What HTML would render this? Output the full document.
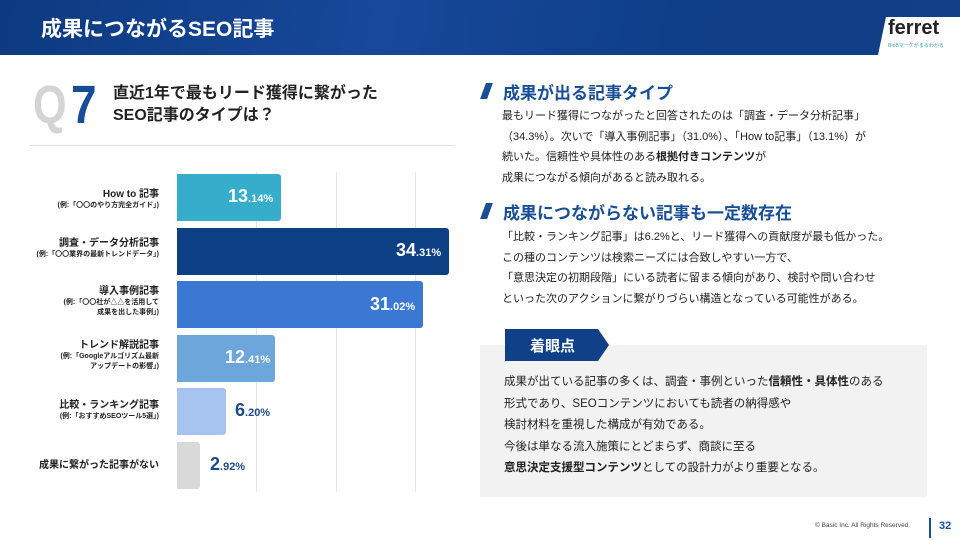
<!DOCTYPE html>
<html><head><meta charset="utf-8"><style>
*{margin:0;padding:0;box-sizing:border-box}
body{width:960px;height:540px;position:relative;background:#fff;font-family:"Liberation Sans","Noto Sans CJK JP",sans-serif;color:#222;overflow:hidden}
.a{position:absolute;white-space:nowrap}
.hdr{left:0;top:0;width:960px;height:55px;background:linear-gradient(100deg,#0d3a80 0%,#17489a 40%,#0f3f88 70%,#123f86 100%)}
.bar{position:absolute;left:177px;height:47px;border-radius:0 3px 3px 0}
.lbl{position:absolute;right:801px;text-align:right;font-weight:bold;font-size:10px;line-height:13px;white-space:nowrap}
.lbl small{font-size:7px;line-height:10px;display:block}
.val{position:absolute;font-weight:bold;font-size:18px}
.val span{font-size:11px}
.grid{position:absolute;top:172px;width:1px;height:320px;background:#e4e4e4}
.h2{font-size:17px;font-weight:bold;color:#1a4f96}
.p{font-size:11px;line-height:20.5px;color:#222}
.slash{position:absolute;width:7px;height:16px;background:#1a4f96;transform:skewX(-20deg)}
</style></head><body>
<div class="a hdr"></div>
<div class="a" style="left:41px;top:13px;font-size:21px;font-weight:bold;color:#fff">成果につながるSEO記事</div>
<div class="a" style="left:878px;top:17px;width:82px;height:38px;background:#fff;clip-path:polygon(8px 0,100% 0,100% 100%,0 100%)"></div>
<div class="a" style="left:888px;top:17px;font-size:20px;font-weight:bold;color:#222">ferret</div>
<div class="a" style="left:888px;top:42px;font-size:5px;color:#3aa8b8">BtoBマーケがまるわかる</div>

<div class="a" style="left:33px;top:76px;font-size:54px;font-weight:bold;color:#d4d4d4;line-height:58px;transform:scaleX(0.8);transform-origin:left">Q</div>
<div class="a" style="left:71px;top:76px;font-size:54px;font-weight:bold;color:#174d96;line-height:58px;transform:scaleX(0.85);transform-origin:left">7</div>
<div class="a" style="left:113px;top:83px;font-size:16px;font-weight:bold;line-height:22px">直近1年で最もリード獲得に繋がった<br>SEO記事のタイプは？</div>
<div class="a" style="left:30px;top:145px;width:425px;height:1px;background:#e2e2e2"></div>

<div class="grid" style="left:256px"></div><div class="grid" style="left:336px"></div><div class="grid" style="left:415px"></div>
<div class="bar" style="top:174px;width:104px;background:#36aecb"></div>
<div class="bar" style="top:228px;width:272px;background:#0c3f83"></div>
<div class="bar" style="top:281px;width:246px;background:#3b78d3"></div>
<div class="bar" style="top:335px;width:98px;background:#6da6db"></div>
<div class="bar" style="top:388px;width:49px;background:#a7c4f1"></div>
<div class="bar" style="top:442px;width:23px;background:#d9d9d9"></div>
<div class="val" style="left:228px;top:186px;color:#fff">13<span>.14%</span></div>
<div class="val" style="left:396px;top:240px;color:#fff">34<span>.31%</span></div>
<div class="val" style="left:370px;top:294px;color:#fff">31<span>.02%</span></div>
<div class="val" style="left:225px;top:347px;color:#fff">12<span>.41%</span></div>
<div class="val" style="left:235px;top:400px;color:#1e4a8a">6<span>.20%</span></div>
<div class="val" style="left:210px;top:454px;color:#1e4a8a">2<span>.92%</span></div>

<div class="lbl" style="top:188px">How to 記事<small>(例:「〇〇のやり方完全ガイド」)</small></div>
<div class="lbl" style="top:237px">調査・データ分析記事<small>(例:「〇〇業界の最新トレンドデータ」)</small></div>
<div class="lbl" style="top:285px">導入事例記事<small>(例:「〇〇社が△△を活用して<br>成果を出した事例」)</small></div>
<div class="lbl" style="top:339px">トレンド解説記事<small>(例:「Googleアルゴリズム最新<br>アップデートの影響」)</small></div>
<div class="lbl" style="top:399px">比較・ランキング記事<small>(例:「おすすめSEOツール5選」)</small></div>
<div class="lbl" style="top:459px">成果に繋がった記事がない</div>

<div class="slash" style="left:483px;top:83px"></div>
<div class="a h2" style="left:503px;top:79px">成果が出る記事タイプ</div>
<div class="a p" style="left:502px;top:106px">最もリード獲得につながったと回答されたのは「調査・データ分析記事」<br>（34.3%）。次いで「導入事例記事」（31.0%）、「How to記事」（13.1%）が<br>続いた。信頼性や具体性のある<b>根拠付きコンテンツ</b>が<br>成果につながる傾向があると読み取れる。</div>
<div class="slash" style="left:483px;top:203px"></div>
<div class="a h2" style="left:503px;top:199px">成果につながらない記事も一定数存在</div>
<div class="a p" style="left:502px;top:227px">「比較・ランキング記事」は6.2%と、リード獲得への貢献度が最も低かった。<br>この種のコンテンツは検索ニーズには合致しやすい一方で、<br>「意思決定の初期段階」にいる読者に留まる傾向があり、検討や問い合わせ<br>といった次のアクションに繋がりづらい構造となっている可能性がある。</div>

<div class="a" style="left:480px;top:345px;width:447px;height:152px;background:#f2f2f2"></div>
<div class="a" style="left:505px;top:329px;width:104px;height:32px;background:#0f4088;clip-path:polygon(0 0,93px 0,100% 50%,93px 100%,0 100%)"></div>
<div class="a" style="left:530px;top:335px;font-size:15px;font-weight:bold;color:#fff">着眼点</div>
<div class="a p" style="left:504px;top:372px;font-size:11.5px;line-height:21.5px">成果が出ている記事の多くは、調査・事例といった<b>信頼性・具体性</b>のある<br>形式であり、SEOコンテンツにおいても読者の納得感や<br>検討材料を重視した構成が有効である。<br>今後は単なる流入施策にとどまらず、商談に至る<br><b>意思決定支援型コンテンツ</b>としての設計力がより重要となる。</div>

<div class="a" style="left:815px;top:522px;font-size:6.5px;color:#444">© Basic Inc. All Rights Reserved.</div>
<div class="a" style="left:929px;top:518px;width:2px;height:20px;background:#1a4f96"></div>
<div class="a" style="left:939px;top:520px;font-size:11px;font-weight:bold;color:#1a4f96">32</div>
</body></html>
